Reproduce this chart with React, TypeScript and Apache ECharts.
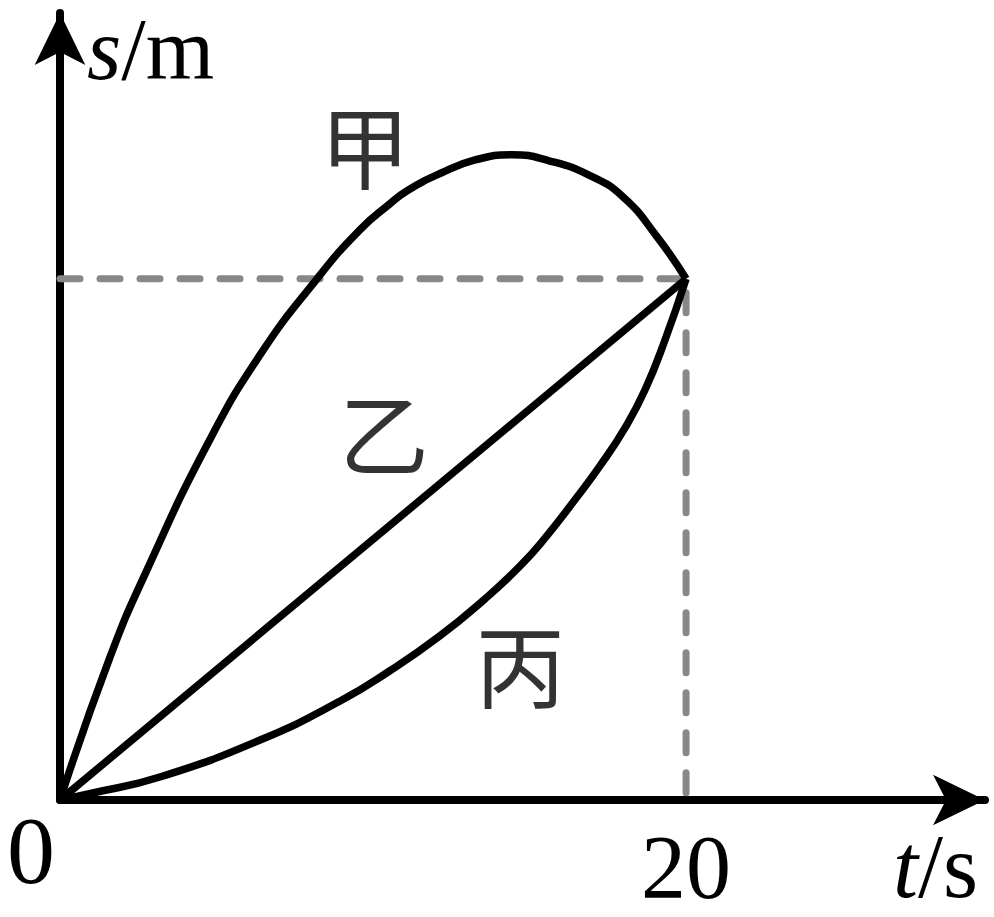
import React, { useEffect, useRef } from "react";
import * as echarts from "echarts";

// t (s) , s (m, arbitrary units with the common end value = 100)
const jiaData: [number, number][] = [
  [0, 0], [1.6, 27.45], [2.78, 44.15], [4.73, 68.5], [6.39, 85.4], [8.21, 100],
  [9.58, 109.4], [10.54, 114.4], [11.09, 116.9], [12.14, 120.2], [13.26, 122.8],
  [14.44, 123.8], [15.65, 122.6], [16.93, 119.8], [17.99, 115.7], [19.07, 108.1], [20, 100],
];
const yiData: [number, number][] = [[0, 0], [20, 100]];
const bingData: [number, number][] = [
  [0, 0], [1.05, 1.34], [3.19, 4.41], [6.39, 11.5], [8.95, 19], [10.54, 24.8],
  [12.14, 31.5], [13.58, 38.6], [14.7, 44.9], [15.5, 50.3], [16.45, 57.6],
  [17.25, 64.1], [18.05, 71.4], [18.69, 78.7], [19.33, 88.3], [20, 100],
];
const guideData: [number, number][] = [[0, 100], [20, 100], [20, 0]];
const curveLabels = [
  { name: "甲", t: 9.74, s: 126.1 },
  { name: "乙", t: 10.35, s: 71 },
  { name: "丙", t: 14.7, s: 26.5 },
];
const xTickLabels = ["0", "20"];
const xMax = 29.55;
const yMax = 151;

const SERIF = '"Liberation Serif", "Times New Roman", serif';
const CJK = '"Noto Sans CJK SC", sans-serif';

export default function App() {
  const ref = useRef<HTMLDivElement>(null);
  useEffect(() => {
    if (!ref.current) return;
    const chart = echarts.init(ref.current, undefined, { renderer: "svg" });
    const curveStyle = { color: "#000", width: 7.5 };
    chart.setOption({
      animation: false,
      backgroundColor: "#fff",
      grid: { left: 60, right: 9, top: 13, bottom: 117 },
      xAxis: {
        type: "value",
        min: 0,
        max: xMax,
        interval: 20,
        axisLine: {
          onZero: false,
          lineStyle: { color: "#000", width: 8 },
          symbol: ["none", "arrow"],
          symbolSize: [38, 52],
        },
        axisTick: { show: false },
        splitLine: { show: false },
        axisLabel: {
          margin: 22,
          color: "#000",
          fontFamily: SERIF,
          fontSize: 90,
          lineHeight: 90,
          showMaxLabel: false,
          formatter: (v: number) => (v === 20 ? xTickLabels[1] : ""),
        },
      },
      yAxis: {
        type: "value",
        min: 0,
        max: yMax,
        axisLine: {
          onZero: false,
          lineStyle: { color: "#000", width: 8 },
          symbol: ["none", "arrow"],
          symbolSize: [38, 52],
        },
        axisTick: { show: false },
        splitLine: { show: false },
        axisLabel: {
          margin: 5,
          showMaxLabel: false,
          formatter: (v: number) => (v === 0 ? "{z|" + xTickLabels[0] + "}" : ""),
          rich: {
            z: {
              fontFamily: SERIF,
              fontSize: 96,
              lineHeight: 96,
              color: "#000",
              padding: [100, 0, 0, 0],
            },
          },
        },
      },
      series: [
        {
          type: "line",
          data: guideData,
          symbol: "none",
          clip: false,
          lineStyle: { color: "#888", width: 7, type: [20, 20], cap: "round" },
          z: 1,
        },
        { type: "line", name: "甲", data: jiaData, smooth: 0.5, symbol: "none", clip: false, lineStyle: curveStyle, z: 3 },
        { type: "line", name: "乙", data: yiData, symbol: "none", clip: false, lineStyle: curveStyle, z: 3 },
        { type: "line", name: "丙", data: bingData, smooth: 0.5, symbol: "none", clip: false, lineStyle: curveStyle, z: 3 },
        {
          type: "scatter",
          data: curveLabels.map((c) => ({ value: [c.t, c.s], name: c.name })),
          symbolSize: 0,
          label: {
            show: true,
            position: "inside",
            formatter: (p: any) => p.name,
            fontFamily: CJK,
            fontSize: 90,
            color: "#000",
          },
          z: 4,
        },
      ],
      graphic: [
        {
          type: "text",
          x: 87,
          y: 49,
          style: {
            text: "{i|s}{n|/m}",
            textAlign: "left",
            textVerticalAlign: "middle",
            rich: {
              i: { fontStyle: "italic", fontFamily: SERIF, fontSize: 88, lineHeight: 88, fill: "#000" },
              n: { fontFamily: SERIF, fontSize: 88, lineHeight: 88, fill: "#000" },
            },
          },
        },
        {
          type: "text",
          x: 893,
          y: 866,
          style: {
            text: "{i|t}{n|/s}",
            textAlign: "left",
            textVerticalAlign: "middle",
            rich: {
              i: { fontStyle: "italic", fontFamily: SERIF, fontSize: 90, lineHeight: 90, fill: "#000" },
              n: { fontFamily: SERIF, fontSize: 90, lineHeight: 90, fill: "#000" },
            },
          },
        },
      ],
    });
    return () => chart.dispose();
  }, []);
  return (
    <div
      ref={ref}
      style={{ position: "absolute", left: 0, top: 0, width: 994, height: 917 }}
    />
  );
}
